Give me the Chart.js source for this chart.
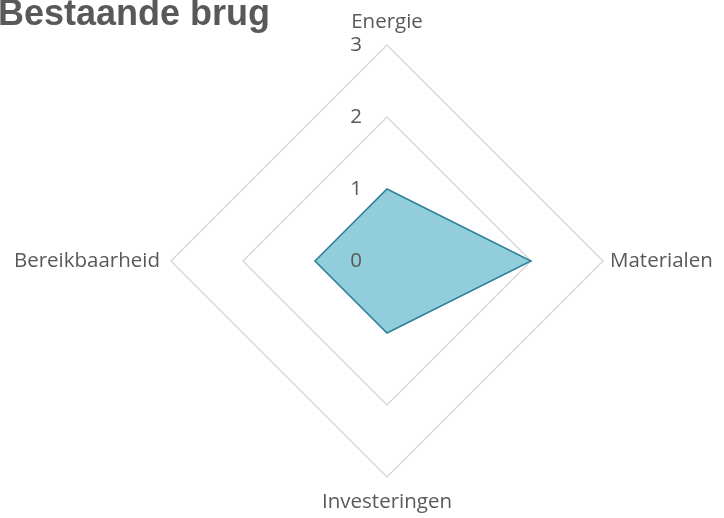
<!DOCTYPE html>
<html>
<head>
<meta charset="utf-8">
<script src="https://cdn.jsdelivr.net/npm/chart.js@4"></script>
<style>
  html, body { margin: 0; padding: 0; background: #fff; }
  canvas { display: block; }
</style>
</head>
<body>
<canvas id="radarChart" width="724" height="518"></canvas>
<script>
const chartTitle = 'Bestaande brug';
const categories = ['Energie', 'Materialen', 'Investeringen', 'Bereikbaarheid'];
const scores = [1, 2, 1, 1];
const tickValues = [0, 1, 2, 3];

const textColor = '#595959';
const labelFont = '20.5px "Open Sans"';

// title, axis names and tick numbers are drawn by hand, placed from the scale
const labelsPlugin = {
  id: 'radarLabels',
  afterDraw(chart) {
    const ctx = chart.ctx;
    const scale = chart.scales.r;
    const xc = scale.xCenter, yc = scale.yCenter, R = scale.drawingArea;
    ctx.save();
    ctx.fillStyle = textColor;

    ctx.font = 'bold 36px "Liberation Sans"';
    ctx.textAlign = 'left';
    ctx.textBaseline = 'alphabetic';
    ctx.fillText(chartTitle, -2, 25);

    ctx.font = labelFont;
    categories.forEach((name, i) => {
      const p = scale.getPointPosition(i, R);
      if (Math.abs(p.x - xc) < 1) {
        ctx.textAlign = 'center';
        ctx.textBaseline = 'alphabetic';
        ctx.fillText(name, p.x, p.y < yc ? p.y - 17 : p.y + 31);
      } else {
        ctx.textBaseline = 'middle';
        if (p.x > xc) {
          ctx.textAlign = 'left';
          ctx.fillText(name, p.x + 7, p.y);
        } else {
          ctx.textAlign = 'right';
          ctx.fillText(name, p.x - 11, p.y);
        }
      }
    });

    ctx.textAlign = 'right';
    ctx.textBaseline = 'middle';
    tickValues.forEach(v => {
      const y = yc - scale.getDistanceFromCenterForValue(v);
      ctx.fillText(String(v), xc - 25, y);
    });
    ctx.restore();
  }
};

new Chart(document.getElementById('radarChart').getContext('2d'), {
  type: 'radar',
  data: {
    labels: categories,
    datasets: [{
      label: chartTitle,
      data: scores,
      borderColor: '#2e8199',
      backgroundColor: '#92cddc',
      borderWidth: 1.5,
      pointRadius: 0,
      fill: true
    }]
  },
  options: {
    responsive: false,
    animation: false,
    layout: {
      padding: { left: 171, right: 121, top: 45, bottom: 41 }
    },
    scales: {
      r: {
        min: tickValues[0],
        max: tickValues[tickValues.length - 1],
        ticks: { stepSize: 1, display: false },
        pointLabels: { display: false },
        angleLines: { display: false },
        grid: { color: '#d9d9d9', lineWidth: 1.5 }
      }
    },
    plugins: {
      legend: { display: false },
      tooltip: { enabled: false },
      title: { display: false }
    }
  },
  plugins: [labelsPlugin]
});
</script>
</body>
</html>
